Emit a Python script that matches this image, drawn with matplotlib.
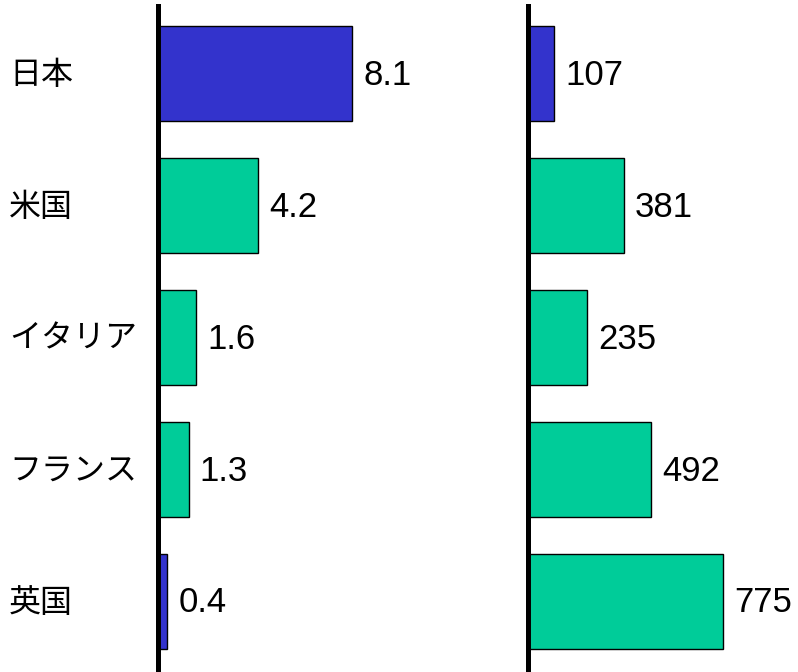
import matplotlib
matplotlib.use("Agg")
import matplotlib.pyplot as plt
from matplotlib.transforms import blended_transform_factory, offset_copy

plt.rcParams['font.family'] = ['Liberation Sans', 'Noto Sans CJK JP', 'DejaVu Sans']

countries = ["日本", "米国", "イタリア", "フランス", "英国"]
left_values = [8.1, 4.2, 1.6, 1.3, 0.4]
right_values = [107, 381, 235, 492, 775]
left_labels = ["8.1", "4.2", "1.6", "1.3", "0.4"]
right_labels = ["107", "381", "235", "492", "775"]
left_colors = ["#3333CC", "#00CC99", "#00CC99", "#00CC99", "#3333CC"]
right_colors = ["#3333CC", "#00CC99", "#00CC99", "#00CC99", "#00CC99"]

W, H = 798, 672
fig = plt.figure(figsize=(W / 100, H / 100), dpi=100)

top_px, bottom_px = 6, 672
ax_bottom = (H - bottom_px) / H
ax_height = (bottom_px - top_px) / H

# left panel: origin at x=157.5 px, 24 px per unit
lx0, lscale, lmax = 157.5, 24.0, 10
ax1 = fig.add_axes([lx0 / W, ax_bottom, lscale * lmax / W, ax_height])
# right panel: origin at x=527.5 px, 0.252 px per unit
rx0, rscale, rmax = 527.5, 0.252, 1000
ax2 = fig.add_axes([rx0 / W, ax_bottom, rscale * rmax / W, ax_height])

ypos = list(range(len(countries)))
step = 132.0
ylim_top = -(74 - top_px) / step
ylim_bot = len(countries) - 1 + (bottom_px - 601.5) / step

FS = 25
FS_JP = 23

for ax, vals, labels, cols, xmax in [
    (ax1, left_values, left_labels, left_colors, lmax),
    (ax2, right_values, right_labels, right_colors, rmax),
]:
    ax.barh(ypos, vals, height=0.72, color=cols, edgecolor="black", linewidth=1.0, zorder=2)
    ax.set_xlim(0, xmax)
    ax.set_ylim(ylim_bot, ylim_top)
    for y, v, t in zip(ypos, vals, labels):
        ax.annotate(t, xy=(v, y), xytext=(8, -1), textcoords="offset points",
                    ha="left", va="center", fontsize=FS, color="black",
                    annotation_clip=False)
    for s in ["top", "right", "bottom"]:
        ax.spines[s].set_visible(False)
    ax.spines["left"].set_linewidth(3.6)
    ax.spines["left"].set_zorder(3)
    ax.set_xticks([])
    ax.set_yticks([])
    ax.patch.set_alpha(0)

# category names at the far left
trans = blended_transform_factory(fig.transFigure, ax1.transData)
trans = offset_copy(trans, fig=fig, x=0, y=-2, units="dots")
for y, name in zip(ypos, countries):
    ax1.text(9 / W, y, name, transform=trans, ha="left", va="center",
             fontsize=FS_JP, color="black", clip_on=False)

fig.savefig("out.png", dpi=100)
